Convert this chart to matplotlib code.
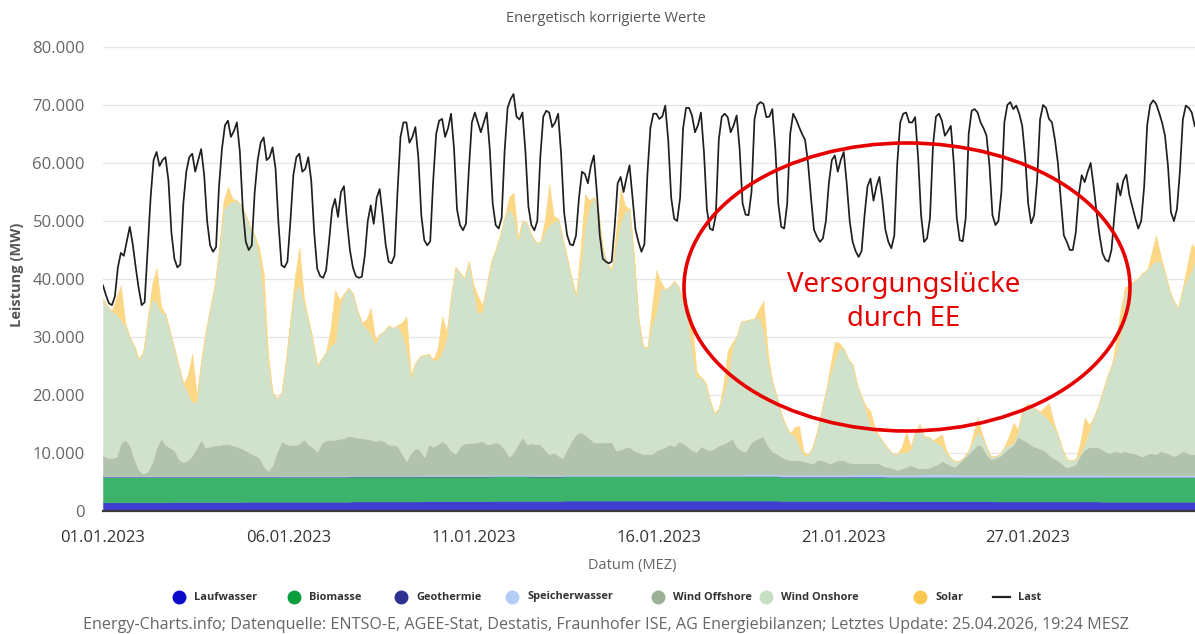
import numpy as np
import matplotlib
matplotlib.use("Agg")
import matplotlib.pyplot as plt
from matplotlib.patches import Ellipse
from matplotlib.lines import Line2D
from matplotlib.ticker import FuncFormatter

plt.rcParams['font.family'] = ['Open Sans', 'DejaVu Sans']

# ---------------- data ----------------
# Last (load), GW, 2-hourly from 01.01.2023 00:00
last_gw = [
    38.9, 37.2, 35.8, 35.5, 37.0, 42.0, 44.5, 44.0, 46.5, 49.0, 46.0, 42.0,
    38.4, 35.5, 36.0, 45.0, 54.0, 60.5, 61.9, 59.5, 60.5, 61.0, 57.0, 48.0,
    43.5, 42.0, 42.5, 53.0, 58.5, 61.0, 61.6, 58.5, 60.5, 62.4, 58.0, 50.0,
    45.8, 44.7, 45.5, 56.0, 62.5, 66.5, 67.3, 64.5, 65.5, 67.0, 62.0, 52.0,
    46.4, 45.0, 45.8, 55.0, 60.5, 63.5, 64.4, 60.5, 61.0, 62.7, 59.0, 49.5,
    42.4, 42.0, 43.0, 50.0, 58.0, 61.0, 61.6, 58.5, 59.0, 61.0, 57.0, 48.0,
    41.8, 40.5, 40.2, 41.5, 46.5, 52.0, 53.8, 50.7, 55.0, 56.0, 50.0, 45.0,
    42.0, 40.5, 40.2, 40.4, 44.0, 50.0, 52.7, 49.5, 54.0, 55.5, 51.0, 46.0,
    43.0, 42.7, 44.0, 55.0, 64.5, 67.0, 67.0, 63.5, 64.5, 66.2, 61.0, 51.0,
    46.7, 45.8, 46.5, 57.0, 65.0, 67.3, 67.6, 64.5, 66.0, 68.5, 62.5, 52.0,
    49.3, 48.4, 49.5, 59.0, 67.0, 68.7, 67.0, 65.3, 67.0, 68.7, 62.5, 53.0,
    49.3, 48.7, 50.5, 62.0, 69.5, 71.0, 71.9, 68.0, 67.5, 68.7, 62.0, 52.5,
    49.3, 48.4, 50.0, 61.0, 68.0, 69.0, 68.7, 66.2, 67.0, 68.5, 61.5, 51.5,
    47.6, 46.0, 45.8, 47.5, 54.0, 58.5, 58.1, 56.5, 59.5, 61.3, 55.0, 47.5,
    43.5, 43.0, 42.7, 43.0, 49.0, 56.5, 57.6, 55.0, 57.5, 59.6, 54.0, 48.5,
    46.4, 44.7, 46.0, 58.0, 66.0, 68.5, 68.5, 67.6, 68.0, 69.9, 64.0, 54.0,
    50.4, 50.0, 54.0, 66.0, 69.5, 69.5, 68.2, 65.3, 66.5, 68.7, 62.0, 52.0,
    48.7, 48.4, 51.0, 64.0, 68.0, 68.5, 67.9, 65.3, 66.5, 68.2, 62.5, 53.0,
    51.1, 51.0, 55.0, 67.5, 70.0, 70.5, 70.2, 67.9, 68.0, 69.3, 62.5, 53.0,
    49.0, 48.7, 53.0, 65.0, 68.5, 67.5, 66.2, 65.0, 64.0, 60.0, 54.0, 48.5,
    47.3, 46.4, 47.0, 50.0, 56.5, 60.5, 61.3, 58.5, 60.5, 61.9, 56.5, 50.0,
    46.4, 44.8, 43.8, 44.8, 51.0, 56.0, 57.3, 53.5, 56.0, 57.6, 53.5, 48.5,
    46.4, 45.3, 47.5, 60.0, 67.0, 68.5, 68.7, 67.0, 67.0, 67.9, 61.0, 51.0,
    46.4, 47.0, 50.5, 63.0, 68.0, 68.5, 67.3, 64.7, 65.5, 66.4, 60.0, 50.5,
    46.7, 46.5, 50.5, 65.0, 69.0, 69.3, 68.7, 67.0, 66.0, 64.7, 59.5, 51.0,
    49.3, 50.0, 55.0, 67.0, 70.0, 70.5, 69.3, 69.9, 68.5, 66.4, 61.0, 53.0,
    49.6, 51.0, 57.0, 67.5, 70.0, 69.5, 67.6, 67.0, 64.0, 60.0, 53.5, 47.5,
    46.4, 45.0, 45.0, 48.0, 54.5, 57.9, 56.7, 58.5, 60.0, 56.0, 51.5, 47.5,
    44.4, 43.3, 43.0, 45.0, 51.0, 56.5, 54.4, 57.0, 58.0, 54.5, 52.5, 50.5,
    48.7, 50.0, 56.0, 66.5, 70.0, 70.8, 70.2, 68.7, 67.0, 64.7, 59.5, 51.5,
    50.0, 52.0, 58.5, 67.5, 69.9, 69.5, 68.7, 66.4,
]

# Wind Onshore, GW, 3-hourly
wind_onshore_gw = [
    26.9, 26.0, 25.4, 24.6, 21.2, 19.6, 18.6, 19.5,
    19.1, 21.0, 26.1, 28.2, 25.0, 21.8, 22.5, 20.0,
    17.5, 16.0, 13.5, 11.7, 9.1, 8.0, 13.6, 20.0,
    23.8, 27.5, 33.6, 40.4, 41.3, 42.1, 42.4, 41.8,
    40.5, 39.0, 37.8, 34.7, 29.2, 18.5, 12.5, 9.2,
    8.5, 14.4, 21.6, 26.6, 27.4, 23.6, 21.5, 18.5,
    14.7, 14.5, 15.3, 16.2, 16.9, 22.5, 24.9, 25.5,
    24.7, 21.9, 19.9, 19.1, 18.2, 16.8, 18.2, 19.0,
    20.6, 20.1, 20.8, 20.7, 19.4, 13.0, 14.7, 16.2,
    17.6, 15.6, 15.0, 14.6, 15.5, 18.4, 26.7, 32.2,
    30.0, 28.5, 31.3, 26.3, 22.2, 22.4, 27.5, 31.5,
    33.3, 36.1, 40.0, 42.8, 40.8, 35.1, 37.4, 38.1,
    35.9, 34.8, 34.9, 37.5, 39.6, 39.8, 40.9, 38.0,
    33.0, 28.0, 23.9, 28.5, 36.0, 40.1, 42.3, 39.8,
    33.3, 30.8, 29.8, 35.7, 39.5, 40.7, 41.1, 33.2,
    23.0, 18.6, 18.3, 22.3, 24.1, 27.8, 27.2, 27.2,
    28.5, 26.7, 24.5, 22.3, 17.2, 12.9, 11.9, 11.4,
    8.6, 6.0, 6.3, 8.6, 11.2, 15.7, 19.1, 22.2,
    22.6, 21.4, 21.0, 20.8, 18.4, 14.5, 12.0, 9.8,
    7.4, 5.7, 4.6, 4.2, 2.4, 1.1, 1.3, 2.8,
    4.9, 8.4, 12.2, 15.5, 17.6, 19.4, 19.2, 17.8,
    17.0, 13.5, 11.5, 9.0, 6.5, 5.5, 4.6, 4.0,
    3.1, 2.5, 2.8, 2.7, 2.6, 2.7, 6.1, 7.6,
    5.4, 5.4, 4.4, 3.7, 2.6, 1.7, 1.3, 0.9,
    0.3, 0.2, 0.6, 1.5, 2.2, 1.6, 1.4, 0.4,
    0.3, 0.3, 0.9, 0.5, 0.3, 0.9, 4.8, 6.5,
    6.8, 6.6, 6.4, 6.0, 6.0, 5.5, 4.4, 2.6,
    1.4, 1.0, 0.8, 0.2, 1.0, 2.8, 5.1, 7.1,
    10.0, 13.0, 15.0, 16.7, 20.5, 27.2, 28.9, 29.6,
    30.5, 31.7, 31.7, 32.6, 33.3, 32.7, 31.0, 28.2,
    26.6, 25.2, 28.2, 30.1, 31.8, 34.3,
]

# Wind Offshore, GW, 3-hourly
wind_offshore_gw = [
    3.6, 3.2, 3.1, 3.3, 5.7, 6.3, 5.3, 2.9,
    1.1, 0.4, 0.8, 2.4, 4.9, 6.5, 5.4, 4.9,
    4.4, 2.9, 2.4, 2.7, 3.6, 4.9, 6.3, 4.9,
    5.1, 5.3, 5.3, 5.5, 5.6, 5.3, 5.1, 4.8,
    4.4, 3.9, 3.6, 3.2, 1.7, 0.9, 1.9, 4.2,
    5.9, 5.5, 5.3, 5.3, 5.5, 6.3, 5.4, 4.9,
    4.2, 5.7, 6.1, 6.2, 6.2, 6.4, 6.5, 6.9,
    6.7, 6.5, 6.5, 6.3, 6.2, 5.9, 6.2, 5.9,
    5.3, 5.3, 5.1, 3.7, 2.5, 3.9, 4.7, 4.4,
    3.1, 5.3, 4.9, 5.3, 5.9, 5.3, 4.2, 3.7,
    4.9, 5.5, 5.6, 5.6, 5.7, 5.9, 5.3, 5.4,
    5.6, 5.3, 4.4, 3.1, 3.9, 5.3, 6.5, 5.3,
    5.5, 5.4, 5.3, 4.4, 3.6, 3.9, 3.4, 2.9,
    4.4, 5.9, 7.0, 7.4, 6.9, 6.3, 5.6, 5.6,
    5.6, 5.6, 5.6, 4.2, 4.4, 4.7, 4.8, 4.2,
    3.9, 3.6, 3.6, 3.6, 4.2, 4.5, 4.8, 5.3,
    4.9, 5.7, 5.4, 4.8, 4.2, 3.9, 4.9, 4.5,
    4.2, 4.5, 5.1, 5.3, 5.7, 6.2, 4.8, 4.2,
    3.9, 5.3, 5.9, 6.3, 6.5, 4.9, 3.9, 3.6,
    3.1, 2.7, 2.5, 2.5, 2.5, 2.3, 2.1, 1.9,
    2.5, 2.5, 2.2, 1.9, 2.3, 2.5, 2.5, 2.1,
    1.9, 1.9, 1.9, 1.9, 1.9, 1.9, 1.9, 1.4,
    1.3, 1.1, 0.8, 1.1, 1.3, 1.7, 1.3, 1.1,
    1.1, 1.1, 1.5, 1.7, 2.3, 1.9, 1.5, 1.3,
    2.1, 2.9, 3.6, 4.4, 5.2, 4.9, 3.4, 2.7,
    2.9, 3.2, 3.9, 4.6, 5.1, 6.5, 6.1, 5.7,
    5.1, 4.8, 4.5, 4.2, 3.4, 2.9, 2.5, 1.8,
    1.3, 1.5, 1.9, 3.4, 4.4, 4.8, 4.8, 4.8,
    4.4, 3.9, 3.9, 4.2, 3.9, 4.2, 3.9, 3.8,
    3.5, 3.2, 3.7, 3.8, 3.6, 4.2, 3.9, 3.7,
    3.3, 3.7, 4.2, 3.8, 3.6, 3.6,
]

# Solar per day at 09:00, 12:00, 15:00 (zero at night), GW
solar_midday_gw = [
    [3.0, 6.0, 0.5], [2.5, 6.0, 1.0], [3.0, 8.5, 1.0], [1.5, 3.0, 0.5],
    [1.5, 4.0, 1.5], [2.5, 6.5, 1.0], [3.0, 9.0, 1.5], [1.5, 4.5, 0.8],
    [2.0, 5.5, 0.5], [2.0, 6.0, 1.0], [1.0, 3.0, 1.0], [2.0, 4.0, 0.5],
    [2.0, 7.0, 1.0], [3.0, 5.5, 1.0], [2.0, 5.5, 1.0], [3.0, 7.0, 1.0],
    [2.0, 5.0, 1.0], [1.5, 4.5, 0.8], [1.5, 5.0, 1.5], [1.5, 3.5, 0.5],
    [1.5, 3.0, 0.8], [0.8, 2.5, 0.5], [1.0, 3.5, 0.5], [1.0, 2.0, 0.5],
    [1.0, 2.5, 0.5], [1.5, 3.5, 0.5], [1.5, 3.0, 0.8], [2.0, 4.5, 1.0],
    [2.0, 4.0, 1.0], [2.0, 4.5, 1.0], [2.5, 4.5, 1.0],
]

# daily values, GW
laufwasser_gw = [1.5, 1.5, 1.55, 1.55, 1.6, 1.6, 1.6, 1.65, 1.65, 1.7, 1.7, 1.75,
                 1.75, 1.8, 1.8, 1.8, 1.8, 1.8, 1.8, 1.75, 1.75, 1.75, 1.7, 1.7,
                 1.7, 1.65, 1.65, 1.65, 1.6, 1.6, 1.6]
biomasse_gw = [4.4, 4.4, 4.35, 4.35, 4.3, 4.3, 4.3, 4.3, 4.3, 4.25, 4.25, 4.25,
               4.2, 4.2, 4.2, 4.2, 4.2, 4.2, 4.2, 4.15, 4.15, 4.15, 4.15, 4.15,
               4.15, 4.2, 4.2, 4.2, 4.25, 4.25, 4.25]
geothermie_gw = [0.02] * 31
speicherwasser_gw = [0.1, 0.1, 0.1, 0.1, 0.1, 0.15, 0.15, 0.15, 0.15, 0.2, 0.2, 0.2,
                     0.2, 0.2, 0.2, 0.2, 0.25, 0.25, 0.3, 0.35, 0.35, 0.4, 0.4, 0.45,
                     0.4, 0.4, 0.35, 0.35, 0.3, 0.3, 0.3]

x_tick_labels = ["01.01.2023", "06.01.2023", "11.01.2023", "16.01.2023",
                 "21.01.2023", "27.01.2023"]
legend_names = ["Laufwasser", "Biomasse", "Geothermie", "Speicherwasser",
                "Wind Offshore", "Wind Onshore", "Solar"]

# ---------------- build series ----------------
n = len(wind_onshore_gw)
t = np.arange(n) * 3 / 24.0  # days since 01.01.2023 00:00
t_last = np.arange(len(last_gw)) * 2 / 24.0

def daily(v):
    return np.repeat(np.array(v) * 1000.0, 8)[:n]

lw_s = daily(laufwasser_gw)
bm_s = daily(biomasse_gw)
gt_s = daily(geothermie_gw)
sw_s = daily(speicherwasser_gw)
off_s = np.array(wind_offshore_gw) * 1000.0
on_s = np.array(wind_onshore_gw) * 1000.0
sol_s = np.zeros(n)
for d, vals in enumerate(solar_midday_gw):
    for k, v in zip((3, 4, 5), vals):
        idx = d * 8 + k
        if idx < n:
            sol_s[idx] = v * 1000.0
last_s = np.array(last_gw) * 1000.0

# ---------------- figure ----------------
W, H = 1195, 634
fig = plt.figure(figsize=(W / 100, H / 100), dpi=100)
fig.patch.set_facecolor('white')

def fx(x):
    return x / W

def fy(y):
    return 1 - y / H

ax = fig.add_axes([fx(103), fy(511), fx(1195) - fx(103), fy(47) - fy(511)])

fill_cols = ['#3f3fd2', '#3db26a', '#333399', '#b5cdf2', '#b2c3ad', '#d0e1cc', '#fcd886']
polys = ax.stackplot(t, lw_s, bm_s, gt_s, sw_s, off_s, on_s, sol_s,
                     colors=fill_cols, linewidth=0, zorder=2)
for p, c in zip(polys, fill_cols):
    p.set_edgecolor(c)
    p.set_linewidth(0.4)

ax.plot(t_last, last_s, color='#1f1f1f', lw=1.25, zorder=5, solid_joinstyle='round')

ax.set_xlim(0, 30.59)
ax.set_ylim(0, 80000)
ax.set_yticks(np.arange(0, 80001, 10000))
ax.yaxis.set_major_formatter(FuncFormatter(lambda v, p: f"{int(v):,}".replace(",", ".")))
ax.yaxis.grid(True, color='#e6e6e6', lw=1)
ax.set_axisbelow(True)
ax.tick_params(axis='y', length=0, pad=13, labelsize=12, labelcolor='#666666')

ax.set_xticks([0, 5.21, 10.39, 15.57, 20.73, 25.91])
ax.set_xticklabels(x_tick_labels)
ax.tick_params(axis='x', length=0, pad=14, labelsize=12, labelcolor='#333333')

for s in ['left', 'right', 'top']:
    ax.spines[s].set_visible(False)
ax.spines['bottom'].set_color('#3a3a3a')
ax.spines['bottom'].set_linewidth(1.6)
ax.spines['bottom'].set_zorder(6)

# texts
fig.text(fx(606), fy(19), "Energetisch korrigierte Werte", ha='center', va='center',
         fontsize=10.5, color='#555555')
fig.text(fx(17), fy(275), "Leistung (MW)", rotation=90, ha='center', va='center',
         fontsize=10.5, fontweight='bold', color='#555555')
fig.text(fx(632), fy(565), "Datum (MEZ)", ha='center', va='center',
         fontsize=10.5, color='#666666')
fig.text(fx(606), fy(625),
         "Energy-Charts.info; Datenquelle: ENTSO-E, AGEE-Stat, Destatis, Fraunhofer ISE, "
         "AG Energiebilanzen; Letztes Update: 25.04.2026, 19:24 MESZ",
         ha='center', va='center', fontsize=11.6, color='#666666')

# legend (manual, Highcharts style)
leg_cols = ['#0a0acc', '#0a9e3c', '#2e3192', '#b3cdf7', '#9ab195', '#c6dfc2', '#fbc84f']
leg_x = [179, 294, 401, 512, 658, 766, 920]
ly = 597
for name, c, x in zip(legend_names, leg_cols, leg_x):
    fig.add_artist(Line2D([fx(x)], [fy(ly)], marker='o', ms=9, color=c, mec=c,
                          transform=fig.transFigure))
    fig.text(fx(x + 15), fy(ly), name, ha='left', va='center', fontsize=7.9,
             fontweight='bold', color='#333333')
fig.add_artist(Line2D([fx(993), fx(1010)], [fy(ly), fy(ly)], color='#222222', lw=1.6,
                      transform=fig.transFigure))
fig.text(fx(1018), fy(ly), "Last", ha='left', va='center', fontsize=7.9,
         fontweight='bold', color='#333333')

# annotation
ell = Ellipse((fx(907), fy(287)), width=446 / W, height=288 / H,
              transform=fig.transFigure, fill=False, ec='#e60000', lw=2.6, zorder=10)
fig.add_artist(ell)
fig.text(fx(904), fy(302), "Versorgungslücke\ndurch EE", ha='center', va='center',
         fontsize=19.8, color='#e60000', family=['Noto Sans', 'DejaVu Sans'],
         linespacing=1.33, multialignment='center', zorder=11)

fig.savefig("out.png", dpi=100, facecolor='white')
